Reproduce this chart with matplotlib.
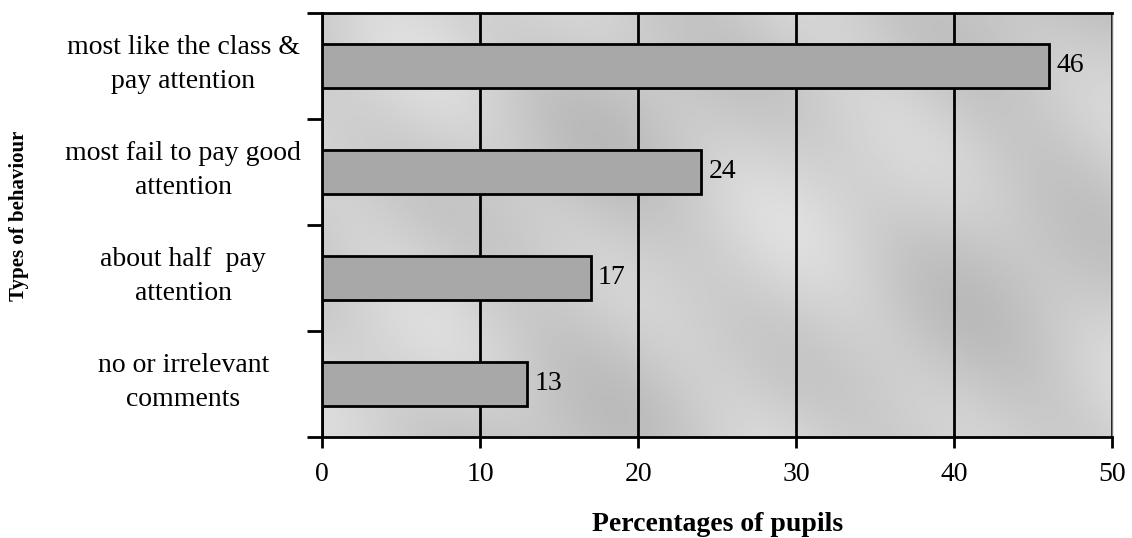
import matplotlib
matplotlib.use("Agg")
from matplotlib import pyplot as plt
from matplotlib.transforms import ScaledTranslation
import numpy as np

# data
categories = ["most like the class &\npay attention",
              "most fail to pay good\nattention",
              "about half  pay\nattention",
              "no or irrelevant\ncomments"]
percentages = [46, 24, 17, 13]
x_ticks = [0, 10, 20, 30, 40, 50]

plt.rcParams['font.family'] = ['Liberation Serif', 'DejaVu Serif']

fig = plt.figure(figsize=(11.32, 5.38), dpi=100)
ax = fig.add_axes([0.2845, 0.188, 0.698, 0.788])

# mottled light gray background, like the scanned texture
yy, xx = np.mgrid[0:1:200j, 0:1:400j]
pattern = (np.sin(9 * xx + 5 * yy) * np.cos(4 * yy - 3 * xx)
           + 0.5 * np.sin(23 * xx - 11 * yy))
tex = 0.80 + 0.05 * pattern
ax.imshow(tex, extent=[0, 50, -0.5, 3.5], aspect='auto', cmap='gray',
          vmin=0, vmax=1, zorder=0, interpolation='bilinear')

pos = np.arange(len(categories))[::-1]
ax.barh(pos, percentages, height=0.41, color='#a8a8a8', edgecolor='black',
        linewidth=2, zorder=3)

for p, v in zip(pos, percentages):
    ax.text(v + 0.45, p, str(v), va='center', ha='left', fontsize=20, zorder=4)

ax.set_xlim(0, 50)
ax.set_ylim(-0.5, 3.5)
ax.set_xticks(x_ticks)
ax.set_xticklabels([str(t) for t in x_ticks], fontsize=20)
ax.set_yticks(pos)
ax.set_yticklabels(categories, fontsize=20, linespacing=1.5, ha='center')
ax.tick_params(axis='y', length=0, pad=100)
# category labels sit a little above the bar centres
for lab in ax.get_yticklabels():
    lab.set_transform(lab.get_transform() + ScaledTranslation(0, 0.09, fig.dpi_scale_trans))
ax.set_yticks(np.arange(-0.5, 4, 1), minor=True)
ax.tick_params(axis='y', which='minor', length=11, width=2, direction='out')
ax.tick_params(axis='x', length=8, width=2, direction='out', pad=10)

ax.grid(axis='x', color='black', linewidth=2, zorder=1)
ax.set_axisbelow(True)
for s in ['left', 'bottom', 'top']:
    ax.spines[s].set_linewidth(2)
ax.spines['right'].set_color('#777777')
ax.spines['right'].set_linewidth(1)

fig.text(0.634, 0.025, "Percentages of pupils", ha='center', va='center',
         fontsize=20, fontweight='bold')
fig.text(0.017, 0.598, "Types of behaviour", ha='center', va='center',
         rotation=90, fontsize=15, fontweight='bold')

fig.savefig("out.png", dpi=100)
